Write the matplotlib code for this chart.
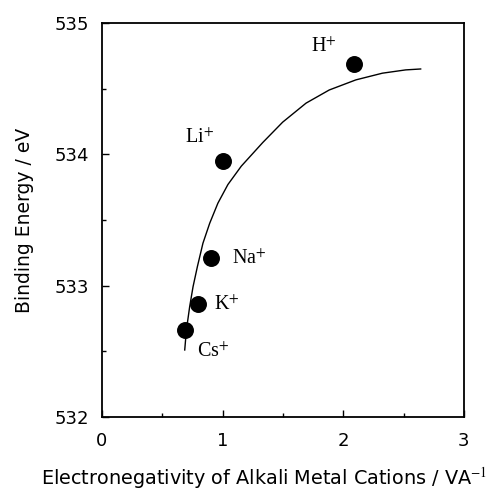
import matplotlib
matplotlib.use('Agg')
import matplotlib.pyplot as plt
from matplotlib.ticker import MultipleLocator

# measured points
ions = ['Cs', 'K', 'Na', 'Li', 'H']
electroneg = [0.69, 0.80, 0.90, 1.00, 2.09]
binding = [532.66, 532.86, 533.21, 533.95, 534.69]

# fitted curve
curve_x = [0.686, 0.700, 0.727, 0.755, 0.791, 0.837, 0.893, 0.961, 1.044,
           1.155, 1.333, 1.498, 1.692, 1.884, 2.105, 2.325, 2.518, 2.642]
curve_y = [532.510, 532.663, 532.840, 532.992, 533.145, 533.323, 533.475,
           533.628, 533.770, 533.910, 534.090, 534.245, 534.390, 534.490,
           534.567, 534.618, 534.643, 534.650]

plt.rcParams['font.family'] = ['DejaVu Sans']
plt.rcParams['mathtext.fontset'] = 'stix'

fig = plt.figure(figsize=(4.91, 4.94), dpi=100)
ax = fig.add_axes([0.2077, 0.156, 0.737, 0.7974])

ax.plot(curve_x, curve_y, color='black', lw=1.0)
ax.scatter(electroneg, binding, s=125, color='black', zorder=3)

# label offsets in points
offs = {'Cs': (8.4, -16), 'K': (11.3, -0.7), 'Na': (15.6, -0.7),
        'Li': (-27, 16.5), 'H': (-30.7, 12)}
for name, x, y in zip(ions, electroneg, binding):
    ax.annotate(name + '$^{+}$', (x, y), xytext=offs[name], textcoords='offset points',
                fontsize=14.5, family='Liberation Serif', va='center', ha='left')

ax.set_xlim(0, 3)
ax.set_ylim(532, 535)
ax.xaxis.set_major_locator(MultipleLocator(1))
ax.xaxis.set_minor_locator(MultipleLocator(0.5))
ax.yaxis.set_major_locator(MultipleLocator(1))
ax.yaxis.set_minor_locator(MultipleLocator(0.5))
ax.tick_params(which='both', direction='in', top=False, right=False, labelsize=13)
ax.tick_params(which='major', length=5, width=1)
ax.tick_params(which='minor', length=3, width=1)
ax.tick_params(axis='x', pad=11)
ax.tick_params(axis='y', pad=9)
for sp in ax.spines.values():
    sp.set_linewidth(1.3)

# x label sits left of the axes centre in the original
fig.text(0.538, 0.032, 'Electronegativity of Alkali Metal Cations / VA$^{-1}$',
         fontsize=13.9, ha='center', va='center')
ax.set_ylabel('Binding Energy / eV', fontsize=13.5, labelpad=15)

fig.savefig('out.png', dpi=100)
